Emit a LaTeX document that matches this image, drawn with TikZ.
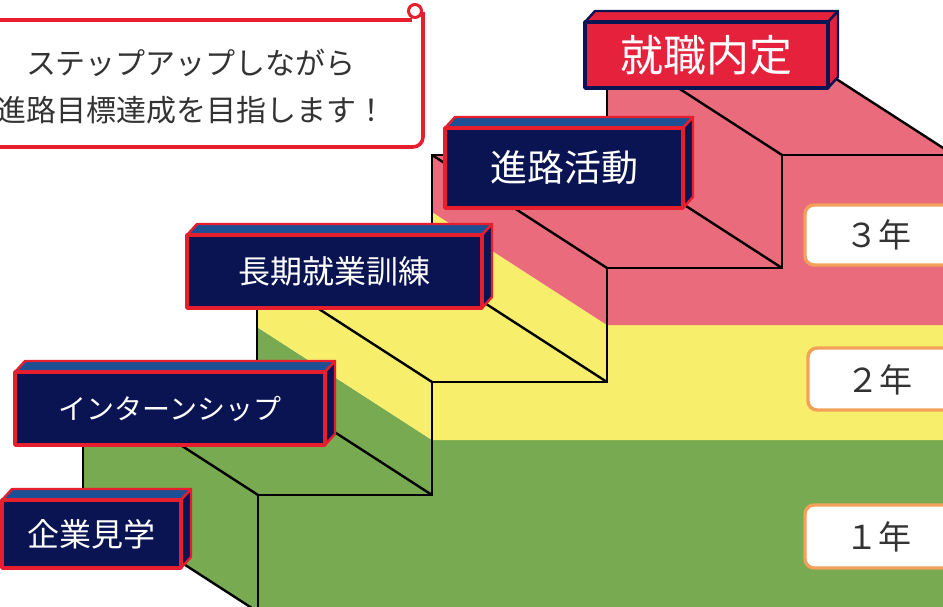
\documentclass[tikz,border=0pt]{standalone}
\usepackage{fontspec}
\newfontfamily\jp{Noto Sans CJK JP}
\definecolor{gr}{HTML}{78AA52}
\definecolor{ye}{HTML}{F7EF6B}
\definecolor{pk}{HTML}{EA6B7B}
\definecolor{navy}{HTML}{0A1452}
\definecolor{redb}{HTML}{E61E2E}
\definecolor{topblue}{HTML}{1D4F94}
\definecolor{redfill}{HTML}{E5213B}
\definecolor{orangeb}{HTML}{F2A05A}
\definecolor{txtgray}{HTML}{333333}
\tikzset{
  edge/.style={draw=black, line width=2.4pt, line cap=round},
  navybox top/.style={fill=topblue, draw=redb, line width=2.4pt},
  navybox side/.style={fill=navy, draw=redb, line width=2.4pt},
  navybox front/.style={fill=navy, draw=redb, line width=3.4pt},
  navybox text/.style={text=white},
  redbox top/.style={fill=redfill, draw=navy, line width=2.4pt},
  redbox side/.style={fill=redfill, draw=navy, line width=2.4pt},
  redbox front/.style={fill=redfill, draw=navy, line width=3.4pt},
  redbox text/.style={text=white},
  yearbox/.style={fill=white, draw=orangeb, line width=3.4pt, rounded corners=9pt},
}
% #1 name, #2 x1, #3 y1, #4 x2, #5 y2, #6 style, #7 font size, #8 text
\newcommand\labbox[8]{%
  \filldraw[#6 top] (#2,#3) -- (#2+10,#3-11) -- (#4+10,#3-11) -- (#4,#3) -- cycle;
  \filldraw[#6 side] (#4,#3) -- (#4+10,#3-11) -- (#4+10,#5-11) -- (#4,#5) -- cycle;
  \filldraw[#6 front] (#2,#3) rectangle (#4,#5);
  \node[#6 text, font=\jp\fontsize{#7}{#7}\selectfont, inner sep=0pt] (#1) at ({(#2+#4)/2},{(#3+#5)/2}) {#8};
}
\begin{document}
\begin{tikzpicture}[x=1pt,y=-1pt, line join=round]
\useasboundingbox (0,0) rectangle (943,607);
\fill[white] (0,0) rectangle (943,607);
\begin{scope}
\clip (0,0) rectangle (943,607);
% ---- stair faces ----
\fill[gr] (258,612) -- (258,495) -- (83,382) -- (83,499) -- cycle;
\fill[gr] (258,495) -- (432,495) -- (257,382) -- (83,382) -- cycle;
\fill[gr] (432,495) -- (432,440) -- (257,327) -- (257,382) -- cycle;
\fill[ye] (432,440) -- (432,382) -- (257,269) -- (257,327) -- cycle;
\fill[ye] (432,382) -- (607,382) -- (432,269) -- (257,269) -- cycle;
\fill[ye] (607,382) -- (607,325) -- (432,212) -- (432,269) -- cycle;
\fill[pk] (607,325) -- (607,268) -- (432,155) -- (432,212) -- cycle;
\fill[pk] (607,268) -- (782,268) -- (607,155) -- (432,155) -- cycle;
\fill[pk] (782,268) -- (782,155) -- (607,42) -- (607,155) -- cycle;
\fill[pk] (782,155) -- (954,155) -- (779,42) -- (607,42) -- cycle;
\fill[gr] (258,612) -- (258,495) -- (432,495) -- (432,440) -- (960,440) -- (960,612) -- cycle;
\fill[ye] (432,440) -- (432,382) -- (607,382) -- (607,325) -- (960,325) -- (960,440) -- cycle;
\fill[pk] (607,325) -- (607,268) -- (782,268) -- (782,155) -- (960,155) -- (960,325) -- cycle;
% ---- edges ----
\draw[edge] (258,612) -- (258,495) -- (432,495) -- (432,382) -- (607,382) -- (607,268) -- (782,268) -- (782,155) -- (954,155);
\draw[edge] (258,612) -- (83,499);
\draw[edge] (258,495) -- (83,382);
\draw[edge] (432,495) -- (257,382);
\draw[edge] (432,382) -- (257,269);
\draw[edge] (607,382) -- (432,269);
\draw[edge] (607,268) -- (432,155);
\draw[edge] (782,268) -- (607,155);
\draw[edge] (782,155) -- (607,42);
\draw[edge] (954,155) -- (779,42);
\draw[edge] (83,499) -- (83,382) -- (257,382) -- (257,269) -- (432,269) -- (432,155) -- (607,155) -- (607,42) -- (779,42);
% ---- label boxes ----
\labbox{l1}{2}{500}{181}{568}{navybox}{32}{企業見学}
\labbox{l2}{15}{372}{325}{445}{navybox}{28}{インターンシップ}
\labbox{l3}{187}{235}{482}{308}{navybox}{32}{長期就業訓練}
\labbox{l4}{445}{128}{683}{208}{navybox}{37}{進路活動}
\labbox{l5}{585}{22}{828}{88}{redbox}{43}{就職内定}
% ---- year boxes ----
\draw[yearbox] (805,205) rectangle (965,265);
\node[font=\jp\fontsize{33}{33}\selectfont, text=txtgray, inner sep=0pt] (y3) at (878,235) {３年};
\draw[yearbox] (808,348) rectangle (965,410);
\node[font=\jp\fontsize{33}{33}\selectfont, text=txtgray, inner sep=0pt] (y2) at (879,380) {２年};
\draw[yearbox] (805,505) rectangle (965,568);
\node[font=\jp\fontsize{33}{33}\selectfont, text=txtgray, inner sep=0pt] (y1) at (878,537) {１年};
% ---- speech box ----
\fill[white, rounded corners=10pt] (-30,20) -- (423,20) -- (423,147) -- (-30,147) -- cycle;
\draw[redb, line width=3.6pt, rounded corners=10pt] (-30,147) -- (423,147) -- (423,12);
\draw[redb, line width=3.6pt] (-30,20) -- (412,20);
\draw[redb, line width=3pt] (415,11) circle (6.5);
\node[font=\jp\fontsize{30}{30}\selectfont, text=txtgray, inner sep=0pt] (b1) at (191,63) {ステップアップしながら};
\node[font=\jp\fontsize{30}{30}\selectfont, text=txtgray, inner sep=0pt] (b2) at (192,110) {進路目標達成を目指します！};
\end{scope}
\end{tikzpicture}
\end{document}
